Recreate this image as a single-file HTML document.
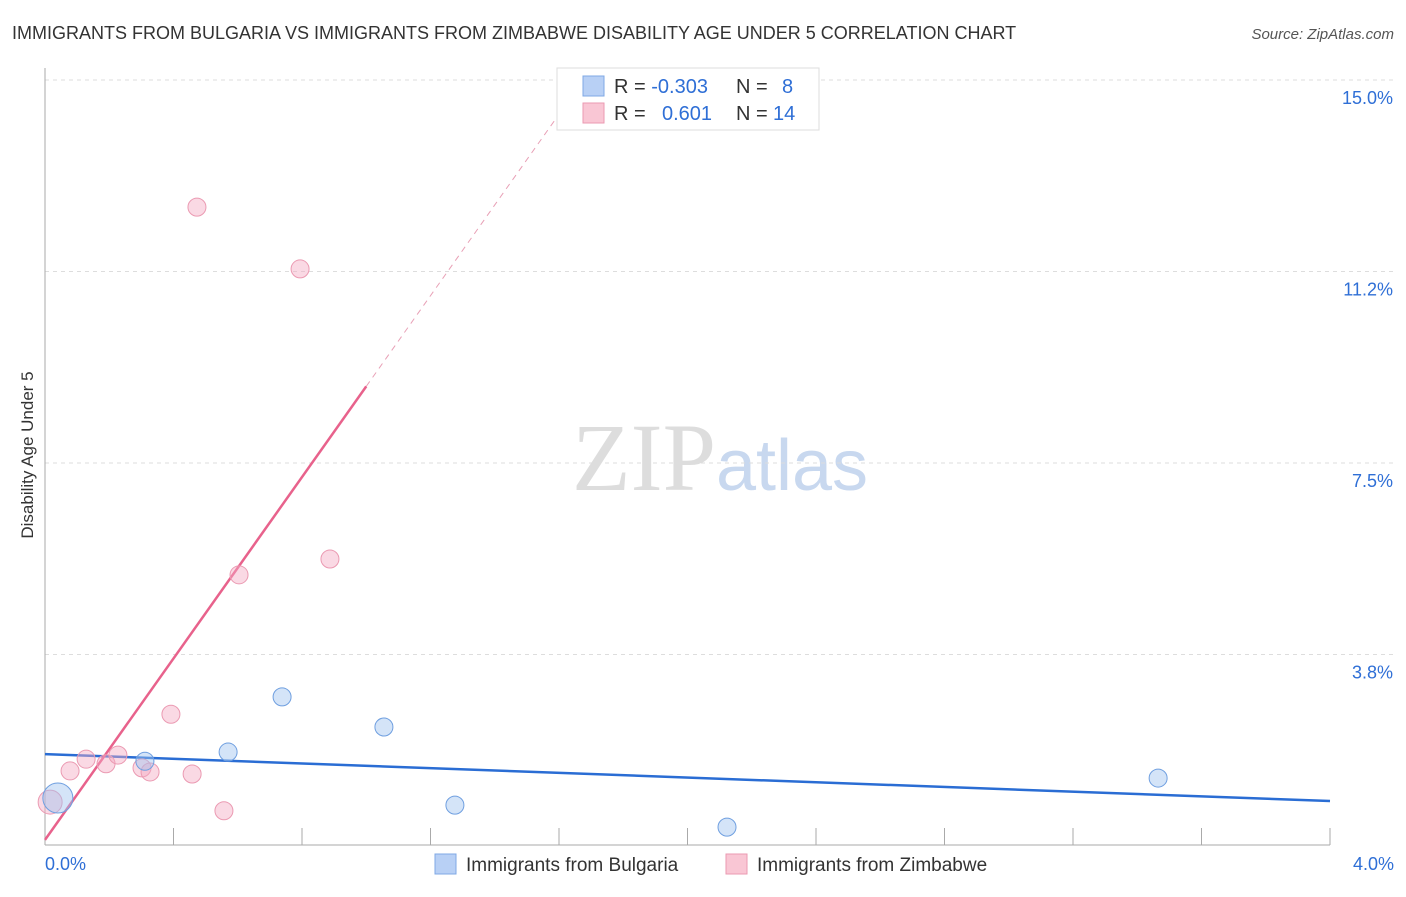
<!DOCTYPE html>
<html><head><meta charset="utf-8"><style>
body{margin:0;background:#fff;font-family:"Liberation Sans",sans-serif}
</style></head><body>
<svg id="c" width="1406" height="892" xmlns="http://www.w3.org/2000/svg" font-family="Liberation Sans, sans-serif">
<text x="12" y="39" font-size="18" fill="#333">IMMIGRANTS FROM BULGARIA VS IMMIGRANTS FROM ZIMBABWE DISABILITY AGE UNDER 5 CORRELATION CHART</text>
<text x="1394" y="39" font-size="15" fill="#555" font-style="italic" text-anchor="end">Source: ZipAtlas.com</text>
<text x="33" y="455" font-size="17" fill="#333" transform="rotate(-90 33 455)" text-anchor="middle">Disability Age Under 5</text>
<text x="720" y="490" font-size="96" fill="#ddd" text-anchor="middle" font-family="Liberation Serif, serif">ZIP<tspan fill="#c8d8ef" font-family="Liberation Sans, sans-serif" font-size="72">atlas</tspan></text>
<g id="grid"></g><g id="axes"></g><g id="lines"></g><g id="pts"></g>
<g>
<rect x="557" y="68" width="262" height="62" fill="#fff" stroke="#ddd"/>
<rect x="583" y="76" width="21" height="20" fill="#b8d0f5" stroke="#7fa8e5"/>
<rect x="583" y="103" width="21" height="20" fill="#f9c6d4" stroke="#eb9ab2"/>
<text x="614" y="93" font-size="20" fill="#333">R = <tspan fill="#2f6fd6">-0.303</tspan><tspan x="736">N = </tspan><tspan x="782" fill="#2f6fd6">8</tspan></text>
<text x="614" y="120" font-size="20" fill="#333">R = <tspan x="662" fill="#2f6fd6">0.601</tspan><tspan x="736">N = </tspan><tspan x="773" fill="#2f6fd6">14</tspan></text>
</g>
<g>
<rect x="435" y="854" width="21" height="20" fill="#b8d0f5" stroke="#7fa8e5"/>
<text x="466" y="871" font-size="19" fill="#333">Immigrants from Bulgaria</text>
<rect x="726" y="854" width="21" height="20" fill="#f9c6d4" stroke="#eb9ab2"/>
<text x="757" y="871" font-size="19" fill="#333">Immigrants from Zimbabwe</text>
</g>
</svg>
<script>
const yTicks=[3.75,7.5,11.25,15];
const yTickLabels=["3.8%","7.5%","11.2%","15.0%"];
const xTickCount=10;
const xLabels=["0.0%","4.0%"];
const bulgariaX=[0.04,0.311,0.57,0.738,1.055,1.276,2.123,3.465];
const bulgariaY=[0.94,1.66,1.84,2.92,2.33,0.80,0.37,1.33];
const bulgariaR=[15,9,9,9,9,9,9,9];
const zimX=[0.016,0.078,0.128,0.19,0.227,0.302,0.327,0.392,0.458,0.557,0.473,0.604,0.794,0.887];
const zimY=[0.86,1.47,1.70,1.61,1.78,1.53,1.45,2.58,1.41,0.69,12.51,5.31,11.30,5.62];
const zimR=[12,9,9,9,9,9,9,9,9,9,9,9,9,9];
const bulgariaTrend=[1.80,0.88]; // at x=0 and x=4
const zimTrend=[0.12,8.88]; // intercept, slope
const X=v=>45+v/4*1285, Y=v=>846-v*51.07;
const NS="http://www.w3.org/2000/svg";
function mk(p,t,a){const e=document.createElementNS(NS,t);for(const k in a)e.setAttribute(k,a[k]);document.getElementById(p).appendChild(e);return e;}
yTicks.forEach((v,i)=>{
 const l=mk('grid','line',{x1:45,x2:1394,y1:Y(v),y2:Y(v),stroke:'#ddd','stroke-dasharray':'4,4'});
 
 
 const t=mk('grid','text',{x:1393,y:Y(v)+24,'font-size':18,fill:'#2f6fd6','text-anchor':'end'});t.textContent=yTickLabels[i];
 
 
});
let a=mk('axes','line',{x1:45,x2:45,y1:68,y2:845,stroke:'#aaa'});


a=mk('axes','line',{x1:45,x2:1330,y1:845,y2:845,stroke:'#aaa'});


for(let i=1;i<=xTickCount;i++){const t=mk('axes','line',{x1:X(i*0.4),x2:X(i*0.4),y1:828,y2:845,stroke:'#aaa'});
 
 }
xLabels.forEach((s,i)=>{const t=mk('axes','text',{x:i?1394:45,y:870,'font-size':18,fill:'#2f6fd6','text-anchor':i?'end':'start'});t.textContent=s;
 
 });
let ln=mk('lines','line',{x1:X(0),y1:Y(bulgariaTrend[0]),x2:X(4),y2:Y(bulgariaTrend[1]),stroke:'#2a6dd4','stroke-width':2.5});


const xs=1.0, xe=(15-zimTrend[0])/zimTrend[1];
ln=mk('lines','line',{x1:X(0),y1:Y(zimTrend[0]),x2:X(xs),y2:Y(zimTrend[0]+zimTrend[1]*xs),stroke:'#e8628c','stroke-width':2.5});


ln=mk('lines','line',{x1:X(xs),y1:Y(zimTrend[0]+zimTrend[1]*xs),x2:X(xe),y2:Y(15),stroke:'#e8a0b6','stroke-width':1,'stroke-dasharray':'6,5'});


zimX.forEach((v,i)=>{const c=mk('pts','circle',{cx:X(v),cy:Y(zimY[i]),r:zimR[i],fill:'rgba(245,170,195,0.45)',stroke:'#eb9ab2'});
 
 });
bulgariaX.forEach((v,i)=>{const c=mk('pts','circle',{cx:X(v),cy:Y(bulgariaY[i]),r:bulgariaR[i],fill:'rgba(160,195,240,0.45)',stroke:'#6f9fe0'});
 
 });
</script>
</body></html>
